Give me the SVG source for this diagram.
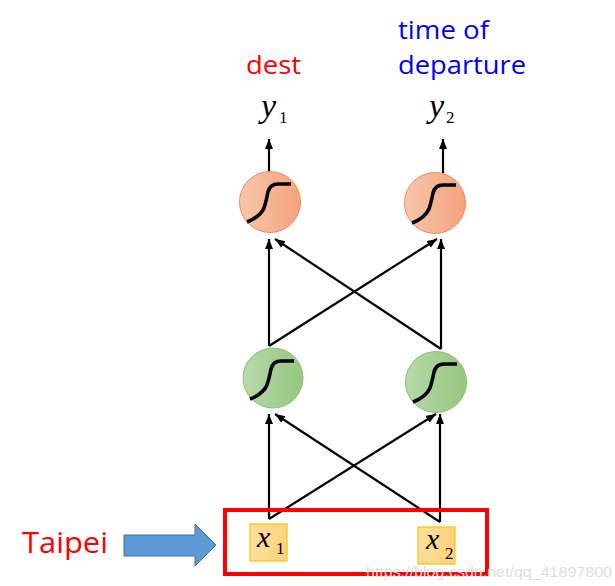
<svg xmlns="http://www.w3.org/2000/svg" width="615" height="586" viewBox="0 0 615 586">
<style>
.lbl{font-family:"Open Sans","Liberation Sans",sans-serif;font-size:25px}
.math{font-family:"Liberation Serif","DejaVu Serif",serif;font-style:italic}
.sub{font-family:"Liberation Serif","DejaVu Serif",serif}
.edge{stroke:#000;stroke-width:2.2;fill:none;marker-end:url(#ah)}
.sig{stroke:#000;stroke-width:3.6;fill:none;stroke-linecap:butt;stroke-linejoin:round}
.orange{fill:url(#go);stroke:#F08C5A;stroke-width:1}
.green{fill:url(#gg);stroke:#8CC070;stroke-width:1}
.inbox{fill:url(#gy);stroke:#FFC000;stroke-width:1.2}
</style>
<defs>
<marker id="ah" markerUnits="userSpaceOnUse" markerWidth="11" markerHeight="9" refX="10" refY="4" orient="auto">
<path d="M0,0 L10,4 L0,8 z" fill="#000"/>
</marker>
<linearGradient id="go" x1="0" y1="0" x2="1" y2="0">
<stop offset="0" stop-color="#F8C6AC"/><stop offset="1" stop-color="#F4A37C"/>
</linearGradient>
<linearGradient id="gg" x1="0" y1="0" x2="1" y2="0">
<stop offset="0" stop-color="#B7D9AA"/><stop offset="1" stop-color="#95C77F"/>
</linearGradient>
<linearGradient id="gy" x1="0" y1="0" x2="1" y2="0">
<stop offset="0" stop-color="#FFDE9C"/><stop offset="1" stop-color="#FFD27E"/>
</linearGradient>
<path id="sigmoid" d="M-23,20 Q-10,15 -6,6 Q-4,0 -2,-10 Q0,-18 8,-18 L21,-18"/>
</defs>

<g id="connectors">
<line class="edge" x1="269" y1="172" x2="269" y2="139"/>
<line class="edge" x1="443" y1="173" x2="443" y2="139"/>
<line class="edge" x1="269" y1="346" x2="269" y2="239"/>
<line class="edge" x1="441" y1="349" x2="441" y2="239"/>
<line class="edge" x1="269" y1="346" x2="437" y2="239"/>
<line class="edge" x1="441" y1="349" x2="275" y2="239"/>
<line class="edge" x1="269" y1="519" x2="269" y2="414"/>
<line class="edge" x1="440" y1="522" x2="440" y2="414"/>
<line class="edge" x1="269" y1="519" x2="436" y2="414"/>
<line class="edge" x1="440" y1="522" x2="275" y2="414"/>
</g>

<g id="out1">
<circle class="orange" cx="270" cy="202" r="30.5"/>
<use href="#sigmoid" class="sig" transform="translate(270,202)"/>
</g>
<g id="out2">
<circle class="orange" cx="435" cy="203" r="30.5"/>
<use href="#sigmoid" class="sig" transform="translate(435,203)"/>
</g>
<g id="hid1">
<circle class="green" cx="273" cy="378" r="30"/>
<use href="#sigmoid" class="sig" transform="translate(273,379)"/>
</g>
<g id="hid2">
<circle class="green" cx="436" cy="382" r="30.5"/>
<use href="#sigmoid" class="sig" transform="translate(436,382)"/>
</g>

<g id="y1">
<text class="math" x="261" y="117" font-size="34">y</text>
<text class="sub" x="279" y="123" font-size="17">1</text>
</g>
<g id="y2">
<text class="math" x="429" y="117" font-size="34">y</text>
<text class="sub" x="446" y="123" font-size="17">2</text>
</g>
<g id="lbl-dest">
<text class="lbl" x="246" y="74" fill="#FF0000" textLength="55" lengthAdjust="spacingAndGlyphs">dest</text>
</g>
<g id="lbl-time">
<text class="lbl" x="398" y="39" fill="#0000FF" textLength="91" lengthAdjust="spacingAndGlyphs">time of</text>
<text class="lbl" x="398" y="74" fill="#0000FF" textLength="128" lengthAdjust="spacingAndGlyphs">departure</text>
</g>

<g id="input-frame">
<rect x="225" y="510" width="262" height="64" fill="none" stroke="#FF0000" stroke-width="4"/>
</g>
<g id="x1">
<rect class="inbox" x="250" y="524" width="37" height="37"/>
<text class="math" x="257" y="547" font-size="30">x</text>
<text class="sub" x="276" y="554" font-size="17">1</text>
</g>
<g id="x2">
<rect class="inbox" x="418" y="527" width="37" height="37"/>
<text class="math" x="426" y="549" font-size="30">x</text>
<text class="sub" x="445" y="559" font-size="17">2</text>
</g>

<g id="taipei">
<text x="22" y="553" font-family="Open Sans, Liberation Sans, sans-serif" font-size="29" fill="#FF0000" textLength="86" lengthAdjust="spacingAndGlyphs">Taipei</text>
<path d="M124,535 L195,535 L195,524 L216,545 L195,566 L195,556 L124,556 z" fill="#5B9BD5" stroke="#41719C" stroke-width="1"/>
</g>

<text x="366" y="577" font-family="Liberation Sans, sans-serif" font-size="15" fill="#DDDDDD" textLength="246" lengthAdjust="spacingAndGlyphs">https://blog.csdn.net/qq_41897800</text>
</svg>
